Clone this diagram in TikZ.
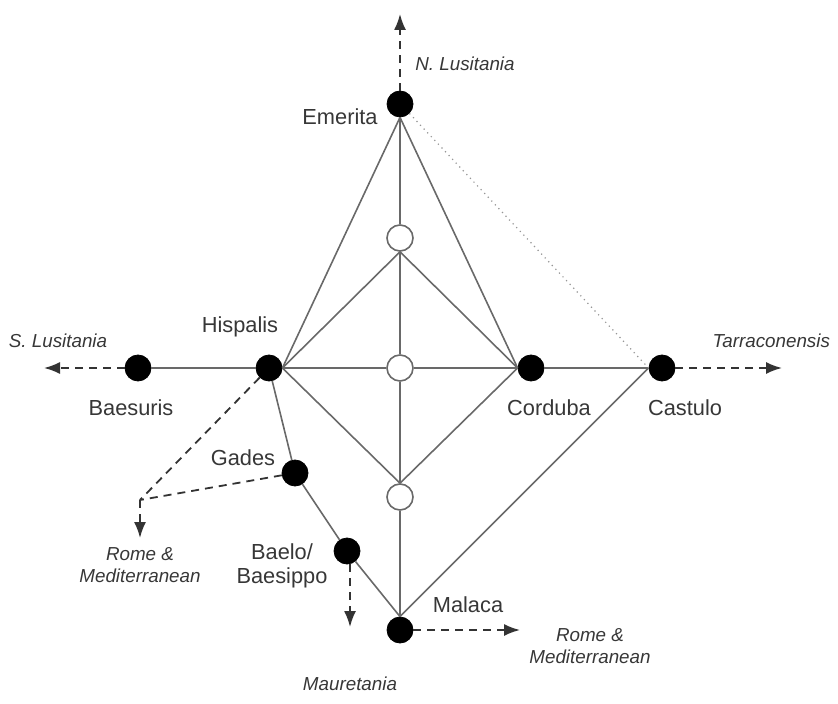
\documentclass[tikz,border=0pt]{standalone}
\usepackage{fontspec}
\setmainfont{Liberation Sans}
\usetikzlibrary{positioning,arrows.meta}
\definecolor{roadgray}{RGB}{105,105,105}
\definecolor{textgray}{RGB}{55,55,55}
\tikzset{
	city/.style={draw=black, fill=black, circle, inner sep=0pt, minimum size=13pt},
	stop/.style={draw=roadgray, fill=white, circle, inner sep=0pt, minimum size=13pt, line width=0.8pt},
	road/.style={draw=roadgray, line width=0.8pt},
	route/.style={draw=black!80, line width=0.9pt, dash pattern=on 4pt off 3pt, -{Latex[length=8pt,width=6pt]}},
	cityname/.style={text=textgray, font=\fontsize{10.9}{12}\selectfont},
	region/.style={text=textgray, font=\fontsize{9.4}{11}\selectfont\itshape, align=center},
}

\begin{document}
\begin{tikzpicture}[x=0.5pt, y=-0.5pt]
\useasboundingbox (0,0) rectangle (838,704);
% the shapes
\node[city] at (400,104) (em) {};
\node[stop] at (400,238) (s1) {};
\node[stop] at (400,368) (s2) {};
\node[stop] at (400,497) (s3) {};
\node[city] at (269,368) (hisp) {};
\node[city] at (138,368) (baes) {};
\node[city] at (531,368) (cord) {};
\node[city] at (662,368) (cast) {};
\node[city] at (295,473) (gad) {};
\node[city] at (347,551) (bael) {};
\node[city] at (400,630) (mal) {};
\coordinate (north) at (400,14);
\coordinate (west) at (44,368);
\coordinate (east) at (782,368);
\coordinate (fork) at (140,500);
\coordinate (rome1) at (140,538);
\coordinate (baelout) at (350,564);
\coordinate (maur) at (350,627);
\coordinate (rome2) at (520,630);

% the roads
\draw[road] (em.south) -- (hisp.east);
\draw[road] (em.south) -- (cord.west);
\draw[road] (em) -- (s1) -- (s2) -- (s3) -- (mal);
\draw[road] (s1.south) -- (hisp.east);
\draw[road] (s1.south) -- (cord.west);
\draw[road] (hisp.east) -- (s2) -- (cord.west);
\draw[road] (s3.north) -- (hisp.east);
\draw[road] (s3.north) -- (cord.west);
\draw[road] (baes) -- (hisp);
\draw[road] (cord) -- (cast);
\draw[road] (cast.west) -- (mal.north);
\draw[road] (hisp) -- (gad) -- (bael) -- (mal.north);
\draw[roadgray!70, dotted, line width=0.6pt] (em.south east) -- (cast.west);

% the arrows
\draw[route] (em) -- (north);
\draw[route] (baes) -- (west);
\draw[route] (cast) -- (east);
\draw[route, -] (hisp) -- (fork);
\draw[route, -] (gad) -- (fork);
\draw[route] (fork) -- (rome1);
\draw[route] (baelout) -- (maur);
\draw[route] (mal.east) -- (rome2);

% the labels
\node[cityname] at (340,117) (emlab) {Emerita};
\node[cityname] at (240,327) (hisplab) {Hispalis};
\node[cityname] at (131,408) (baeslab) {Baesuris};
\node[cityname] at (549,408) (cordlab) {Corduba};
\node[cityname] at (685,408) (castlab) {Castulo};
\node[cityname] at (243,458) (gadlab) {Gades};
\node[cityname, align=center] at (282,566) (baellab) {Baelo/\\Baesippo};
\node[cityname] at (468,605) (mallab) {Malaca};
\node[region] at (465,64) (nlus) {N. Lusitania};
\node[region] at (58,341) (slus) {S. Lusitania};
\node[region, anchor=east] at (837,341) (tarr) {Tarraconensis};
\node[region] at (140,565) (rmed1) {Rome \&\\Mediterranean};
\node[region] at (350,684) (maurlab) {Mauretania};
\node[region] at (590,646) (rmed2) {Rome \&\\Mediterranean};
\end{tikzpicture}
\end{document}
